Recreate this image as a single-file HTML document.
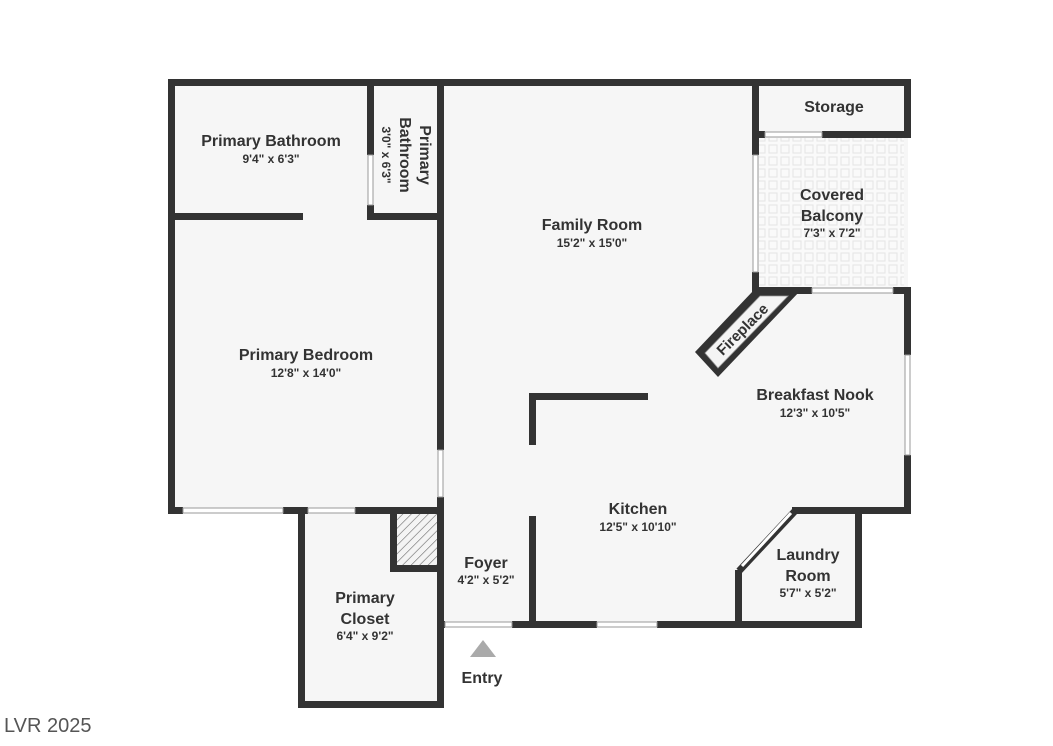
<!DOCTYPE html>
<html><head><style>body{margin:0;background:#fff}svg{display:block}</style></head><body>
<svg width="1053" height="746" viewBox="0 0 1053 746" xmlns="http://www.w3.org/2000/svg" font-family="Liberation Sans, sans-serif">
<defs>
<pattern id="tile" width="12" height="12" patternUnits="userSpaceOnUse">
<rect width="12" height="12" fill="#fafafa"/><rect x="1" y="1" width="8" height="8" fill="none" stroke="#e4e4e4" stroke-width="1"/>
</pattern>
<pattern id="hatch" width="6" height="6" patternUnits="userSpaceOnUse" patternTransform="rotate(45)">
<rect width="6" height="6" fill="#f4f4f4"/><line x1="0" y1="0" x2="0" y2="6" stroke="#666" stroke-width="1.2"/>
</pattern>
</defs>
<g fill="#f6f6f6">
<rect x="172" y="83" width="736" height="428"/>
<rect x="440" y="500" width="420" height="125"/>
<rect x="301" y="510" width="140" height="195"/>
</g>
<rect x="759" y="138" width="145" height="150" fill="url(#tile)"/>
<rect x="397" y="514" width="40" height="52" fill="url(#hatch)"/>
<g fill="#333">
<rect x="168" y="79" width="743" height="7"/>
<rect x="168" y="79" width="7" height="435"/>
<rect x="168" y="507" width="15" height="7"/><rect x="283" y="507" width="25" height="7"/><rect x="355" y="507" width="89" height="7"/>
<rect x="175" y="213" width="128" height="7"/>
<rect x="367" y="86" width="7" height="69"/><rect x="367" y="205" width="7" height="15"/><rect x="367" y="213" width="70" height="7"/>
<rect x="437" y="86" width="7" height="364"/><rect x="437" y="497" width="7" height="211"/>
<rect x="298" y="507" width="7" height="201"/><rect x="298" y="701" width="146" height="7"/>
<rect x="390" y="514" width="7" height="58"/><rect x="390" y="565" width="47" height="7"/>
<rect x="512" y="621" width="85" height="7"/><rect x="657" y="621" width="205" height="7"/>
<rect x="437" y="621" width="8" height="7"/>
<rect x="529" y="516" width="7" height="105"/>
<rect x="529" y="393" width="119" height="7"/><rect x="529" y="393" width="7" height="52"/>
<rect x="904" y="79" width="7" height="59"/>
<rect x="752" y="131" width="13" height="7"/><rect x="822" y="131" width="89" height="7"/>
<rect x="752" y="86" width="7" height="69"/><rect x="752" y="272" width="7" height="22"/>
<rect x="752" y="287" width="60" height="7"/><rect x="893" y="287" width="18" height="7"/>
<rect x="904" y="287" width="7" height="68"/><rect x="904" y="455" width="7" height="59"/>
<rect x="792" y="507" width="119" height="7"/>
<rect x="855" y="507" width="7" height="121"/>
<rect x="735" y="570" width="7" height="58"/>
<polygon points="753,291 800,291 718,377 695,352"/>
</g>
<polygon points="760,296 788,296 718,368 705,353" fill="#f4f4f4" stroke="#999" stroke-width="0.8"/>
<g fill="#fff" stroke="#999" stroke-width="1">
<rect x="183" y="508" width="100" height="5"/><rect x="308" y="508" width="47" height="5"/>
<rect x="368" y="155" width="5" height="50"/><rect x="438" y="450" width="5" height="47"/>
<rect x="445" y="622" width="67" height="5"/><rect x="597" y="622" width="60" height="5"/>
<rect x="765" y="132" width="57" height="5"/><rect x="753" y="155" width="5" height="117"/>
<rect x="812" y="288" width="81" height="5"/><rect x="905" y="355" width="5" height="100"/>
</g>
<line x1="795" y1="511" x2="739" y2="571" stroke="#333" stroke-width="7"/>
<line x1="791" y1="513" x2="742" y2="566" stroke="#fff" stroke-width="3"/>
<polygon points="483,640 496,657 470,657" fill="#aaa"/>
<g fill="#333" text-anchor="middle" font-weight="bold">
<g font-size="16">
<text x="271" y="146">Primary Bathroom</text>
<text x="592" y="230">Family Room</text>
<text x="834" y="112">Storage</text>
<text x="832" y="200">Covered</text><text x="832" y="221">Balcony</text>
<text x="815" y="400">Breakfast Nook</text>
<text x="306" y="360">Primary Bedroom</text>
<text x="638" y="514">Kitchen</text>
<text x="486" y="568">Foyer</text>
<text x="808" y="560">Laundry</text><text x="808" y="581">Room</text>
<text x="365" y="603">Primary</text><text x="365" y="624">Closet</text>
<text x="482" y="683">Entry</text>
<text transform="translate(420,155) rotate(90)">Primary</text>
<text transform="translate(400,155) rotate(90)">Bathroom</text>
<text transform="translate(746,333) rotate(-45)" font-size="15">Fireplace</text>
</g>
<g font-size="12">
<text x="271" y="163">9'4" x 6'3"</text>
<text transform="translate(382,155) rotate(90)">3'0" x 6'3"</text>
<text x="592" y="247">15'2" x 15'0"</text>
<text x="832" y="237">7'3" x 7'2"</text>
<text x="815" y="417">12'3" x 10'5"</text>
<text x="306" y="377">12'8" x 14'0"</text>
<text x="638" y="531">12'5" x 10'10"</text>
<text x="486" y="584">4'2" x 5'2"</text>
<text x="808" y="597">5'7" x 5'2"</text>
<text x="365" y="640">6'4" x 9'2"</text>
</g>
</g>
<text x="4" y="732" font-size="20" fill="#555">LVR 2025</text>
</svg>
</body></html>
